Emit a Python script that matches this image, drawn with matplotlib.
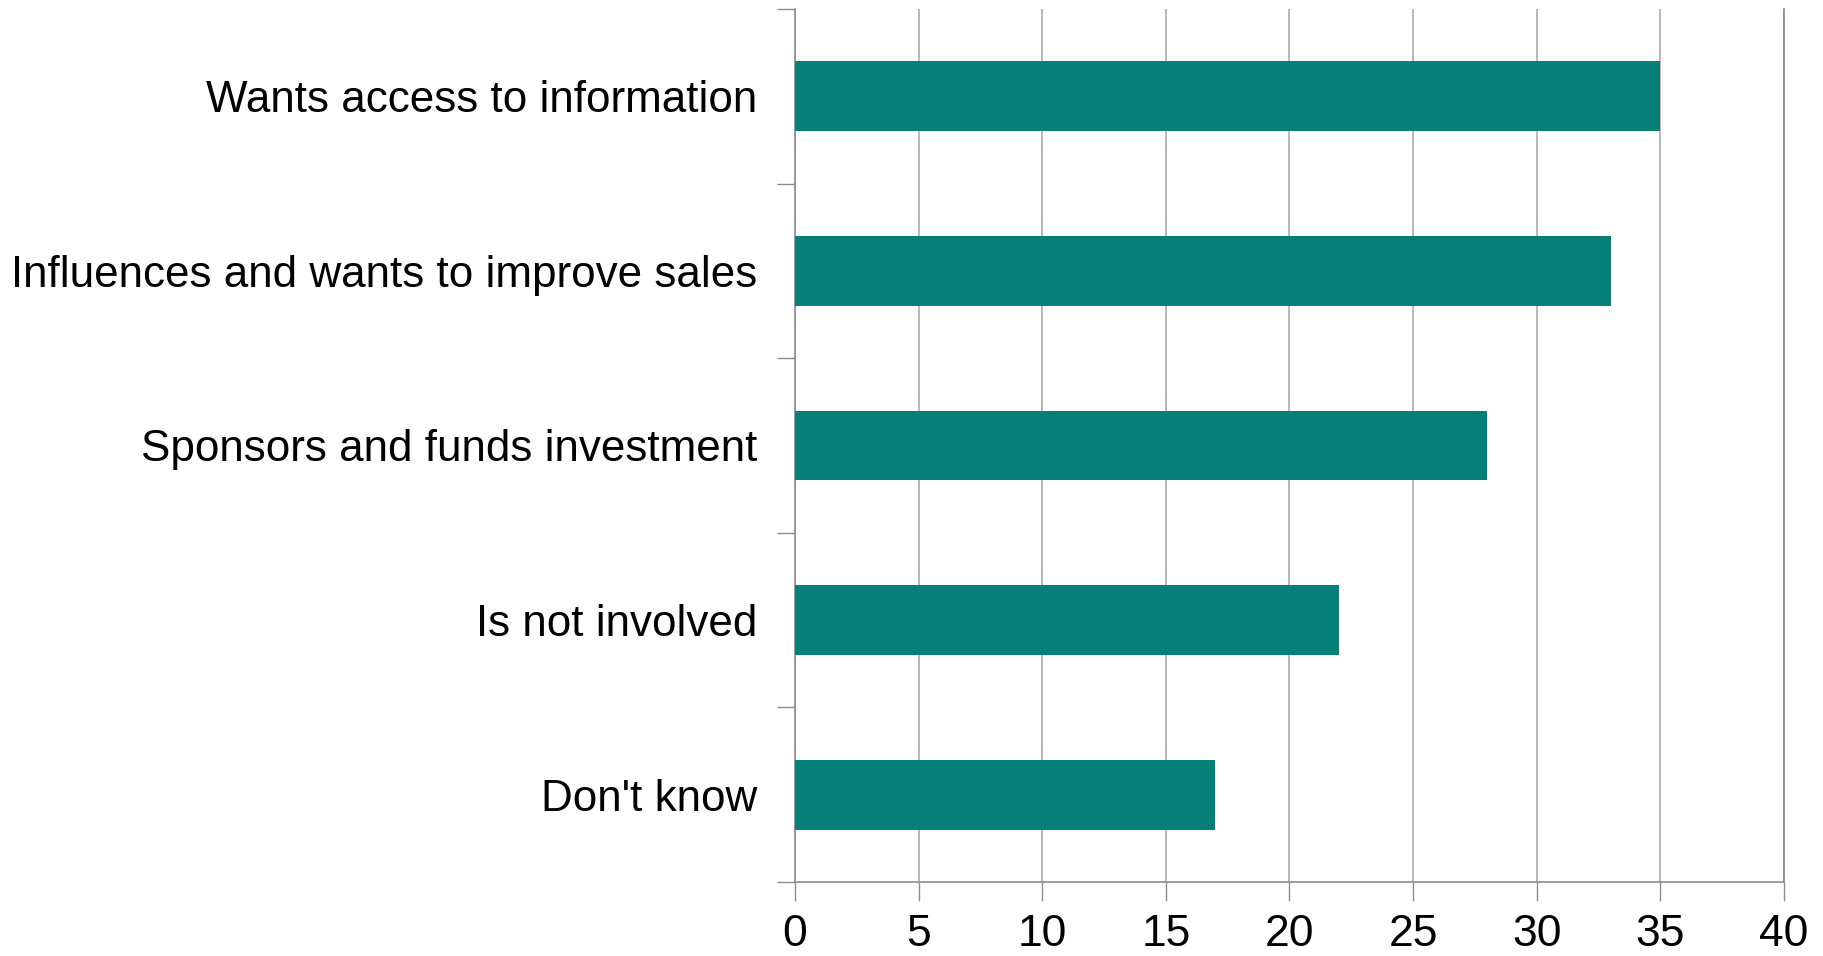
import numpy as np
import matplotlib
matplotlib.use("Agg")
import matplotlib.pyplot as plt

plt.rcParams['font.family'] = ['Liberation Sans', 'DejaVu Sans']

categories = [
    "Wants access to information",
    "Influences and wants to improve sales",
    "Sponsors and funds investment",
    "Is not involved",
    "Don't know",
]
values = [35, 33, 28, 22, 17]
x_ticks = [0, 5, 10, 15, 20, 25, 30, 35, 40]

bar_color = "#077F79"
grid_color = "#ABABAB"
axis_color = "#8C8C8C"

fig = plt.figure(figsize=(18.23, 9.56), dpi=100)
ax = fig.add_axes([0.4361, 0.0774, 0.5425, 0.9132])

pos = np.arange(len(categories))
ax.barh(pos, values, height=0.4, color=bar_color, zorder=3)

ax.set_xlim(0, 40)
ax.set_ylim(len(categories) - 0.5, -0.5)

ax.set_xticks(x_ticks)
ax.set_xticklabels([str(t) for t in x_ticks], fontsize=32)
ax.tick_params(axis='x', direction='out', length=14, width=1, color=axis_color, pad=9)
ax.xaxis.grid(True, color=grid_color, linewidth=1.2, zorder=0)

# category names sit between the boundary tick marks
ax.set_yticks(np.arange(len(categories) + 1) - 0.5)
ax.set_yticklabels([])
ax.tick_params(axis='y', which='major', direction='out', length=13, width=1, color=axis_color)
ax.set_yticks(pos, minor=True)
ax.set_yticklabels(categories, minor=True, fontsize=31.7)
ax.tick_params(axis='y', which='minor', length=0, pad=27)

ax.spines['top'].set_visible(False)
ax.spines['right'].set_color("#888888")
ax.spines['left'].set_color(axis_color)
ax.spines['bottom'].set_color(axis_color)
for s in ax.spines.values():
    s.set_linewidth(1.2)

fig.savefig("out.png", dpi=100)
